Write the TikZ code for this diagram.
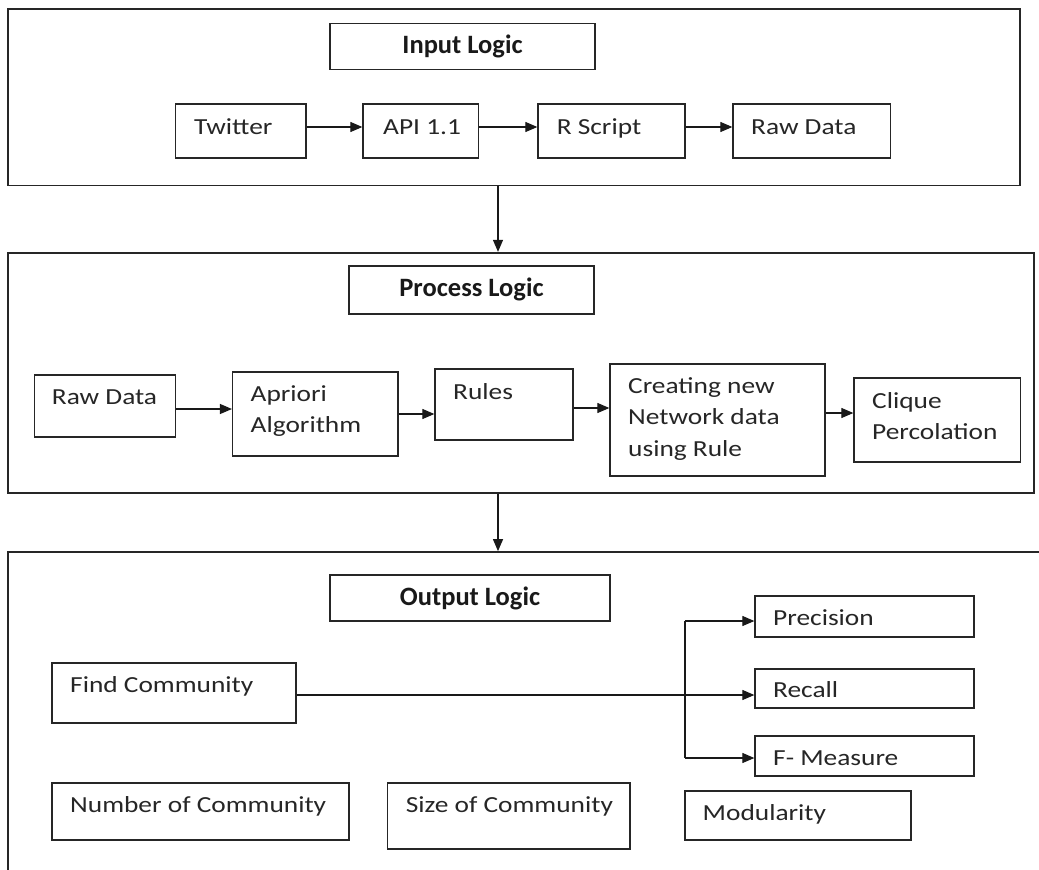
\documentclass[tikz,border=0pt]{standalone}
\usepackage{fontspec}
\setmainfont{Carlito}[FakeStretch=1.19]
\newfontfamily\titlefont{Carlito}
\usetikzlibrary{arrows.meta,fit}
\begin{document}
\begin{tikzpicture}[x=1pt,y=-1pt,
  box/.style={draw=black!85, line width=1.3pt, inner sep=0pt},
  cont/.style={draw=black!85, line width=1.7pt, inner sep=0pt},
  ln/.style={draw=black!90, line width=1.1pt},
  arr/.style={ln, -{Triangle[length=12pt,width=10pt]}},
  lab/.style={anchor=base west, inner sep=0pt, text=black!85, font=\fontsize{23}{27}\selectfont},
  ttl/.style={anchor=base, inner sep=0pt, text=black!90, font=\titlefont\fontsize{26.5}{30}\selectfont\bfseries}]
\useasboundingbox (0,0) rectangle (1039,870);
\fill[white] (0,0) rectangle (1039,870);
\clip (0,0) rectangle (1039,870);

% ---------- Input Logic ----------
\node[cont, fit={(8,9.3)(1020,185.5)}] (ic) {};
\node[box, fit={(330,23.3)(595,69.3)}] (il) {};
\node[ttl] (ilt) at (462.5,53) {Input Logic};

\node[box, fit={(175.6,104)(306,158)}] (tw) {};
\node[box, fit={(363,104)(478.5,158)}] (api) {};
\node[box, fit={(538,104)(685,158)}] (rs) {};
\node[box, fit={(733,104)(890.6,158)}] (rd1) {};
\node[lab] (twt) at (194,134) {Twitter};
\node[lab] (apit) at (383,134) {API 1.1};
\node[lab] (rst) at (556.6,134) {R Script};
\node[lab] (rd1t) at (751,134) {Raw Data};

\draw[arr] (tw.east |- 0,127) -- (api.west |- 0,127);
\draw[arr] (api.east |- 0,127) -- (rs.west |- 0,127);
\draw[arr] (rs.east |- 0,127) -- (rd1.west |- 0,127);

% ---------- Process Logic ----------
\node[cont, fit={(8,252.7)(1034,493)}] (pc) {};
\node[box, fit={(349,266)(594,314)}] (pl) {};
\node[ttl] (plt) at (471.5,296) {Process Logic};

\node[box, fit={(34.5,375)(175.6,437)}] (rd2) {};
\node[box, fit={(232.6,372)(398,456)}] (ap) {};
\node[box, fit={(435,369)(573,440)}] (ru) {};
\node[box, fit={(610,364)(825,476)}] (cr) {};
\node[box, fit={(854,378)(1020.6,462)}] (cl) {};
\node[lab] (rd2t) at (51.7,404) {Raw Data};
\node[lab] (apt1) at (250.5,401.7) {Apriori};
\node[lab] (apt2) at (250.5,432) {Algorithm};
\node[lab] (rut) at (453,399) {Rules};
\node[lab] (crt1) at (628,393.3) {Creating new};
\node[lab] (crt2) at (628,424.5) {Network data};
\node[lab] (crt3) at (628,456.5) {using Rule};
\node[lab] (clt1) at (872,408.3) {Clique};
\node[lab] (clt2) at (872,439) {Percolation};

\draw[arr] (rd2.east |- 0,409) -- (ap.west |- 0,409);
\draw[arr] (ap.east |- 0,414) -- (ru.west |- 0,414);
\draw[arr] (ru.east |- 0,408) -- (cr.west |- 0,408);
\draw[arr] (cr.east |- 0,413) -- (cl.west |- 0,413);

% ---------- Output Logic ----------
\node[cont, fit={(8,552)(1070,910)}] (oc) {};
\node[box, fit={(330,575)(610,621)}] (ol) {};
\node[ttl] (olt) at (470,605) {Output Logic};

\node[box, fit={(755,596)(974,637)}] (pr) {};
\node[box, fit={(755,669)(974,708)}] (rc) {};
\node[box, fit={(755,736)(974,776)}] (fm) {};
\node[box, fit={(52,663)(296,723)}] (fc) {};
\node[box, fit={(52,783)(349,840)}] (nc) {};
\node[box, fit={(387.7,783)(630,849)}] (sc) {};
\node[box, fit={(685,791)(911,840)}] (md) {};
\node[lab] (prt) at (773,625) {Precision};
\node[lab] (rct) at (773,697) {Recall};
\node[lab] (fmt) at (773,765) {F- Measure};
\node[lab] (fct) at (70,692.7) {Find Community};
\node[lab] (nct) at (70,812) {Number of Community};
\node[lab] (sct) at (405.6,812.7) {Size of Community};
\node[lab] (mdt) at (702.5,820.7) {Modularity};

\coordinate (b1) at (685,621);
\coordinate (b2) at (685,758);
\draw[ln] (b1) -- (b2);
\draw[arr] (b1) -- (pr.west |- b1);
\draw[arr] (b2) -- (fm.west |- b2);
\draw[arr] (fc.east |- 0,695) -- (rc.west |- 0,695);

% ---------- between sections ----------
\coordinate (c1) at (498,0);
\draw[arr] (ic.south -| c1) -- (pc.north -| c1);
\draw[arr] (pc.south -| c1) -- (oc.north -| c1);
\end{tikzpicture}
\end{document}
